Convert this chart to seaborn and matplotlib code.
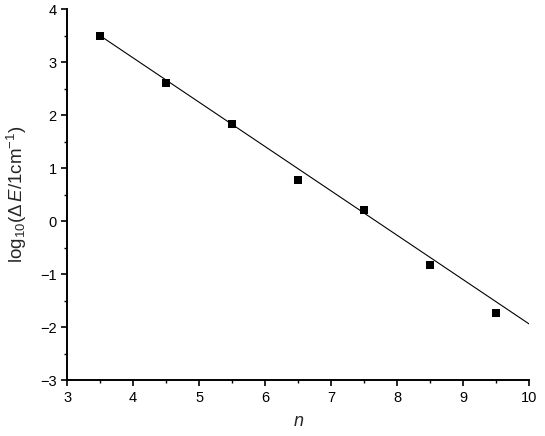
import numpy as np
import pandas as pd
import matplotlib
matplotlib.use("Agg")
import matplotlib.pyplot as plt
import seaborn as sns
from matplotlib.ticker import MultipleLocator

# data
n_vals = [3.5, 4.5, 5.5, 6.5, 7.5, 8.5, 9.5]
log_dE = [3.50, 2.60, 1.83, 0.78, 0.22, -0.83, -1.73]
fit_n = [3.5, 10.0]
fit_log = [3.50, -1.94]

sns.set_theme(style="ticks")
plt.rcParams['font.family'] = ['Liberation Sans', 'DejaVu Sans']
plt.rcParams['mathtext.fontset'] = 'custom'
plt.rcParams['mathtext.rm'] = 'Liberation Sans'
plt.rcParams['mathtext.it'] = 'Liberation Sans:italic'

df = pd.DataFrame({'n': n_vals, 'logE': log_dE})
fit = pd.DataFrame({'n': fit_n, 'logE': fit_log})

fig = plt.figure(figsize=(5.45, 4.36), dpi=100)
ax = fig.add_axes([0.123, 0.128, 0.848, 0.851])

sns.lineplot(data=fit, x='n', y='logE', ax=ax, color='black', linewidth=0.8)
sns.scatterplot(data=df, x='n', y='logE', ax=ax, marker='s', s=30,
                color='black', edgecolor='black', linewidth=0, zorder=3)

ax.set_xlim(3, 10)
ax.set_ylim(-3, 4)
ax.xaxis.set_major_locator(MultipleLocator(1))
ax.xaxis.set_minor_locator(MultipleLocator(0.5))
ax.yaxis.set_major_locator(MultipleLocator(1))
ax.yaxis.set_minor_locator(MultipleLocator(0.5))
ax.tick_params(which='major', length=4, width=1.2, labelsize=10.5, color='black', labelcolor='black')
ax.tick_params(which='minor', length=2.5, width=1.0, color='black')
for s in ['left', 'bottom']:
    ax.spines[s].set_linewidth(1.4)
    ax.spines[s].set_color('black')
sns.despine(ax=ax)

ax.set_xlabel(r'$\it{n}$', fontsize=13, labelpad=6)
ax.set_ylabel(r'log$_{10}$($\Delta\,\it{E}$/1cm$^{-1}$)', fontsize=13.5, labelpad=8)

fig.savefig('out.png', dpi=100)
